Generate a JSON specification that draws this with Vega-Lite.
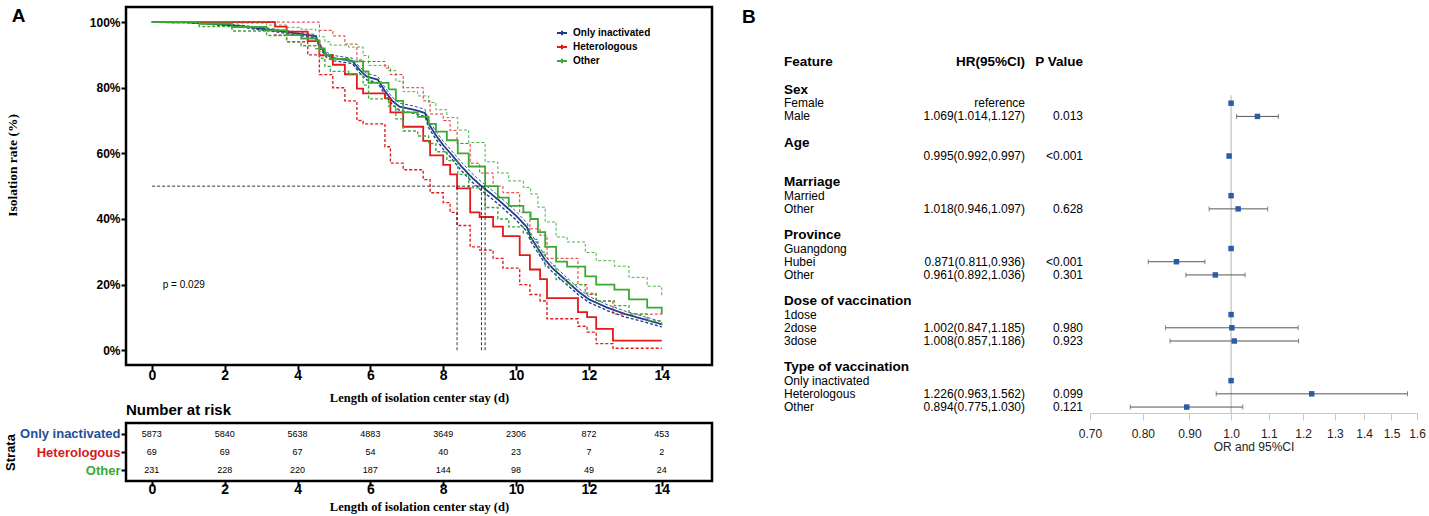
{
  "$schema": "https://vega.github.io/schema/vega-lite/v6.json",
  "padding": {"left": 2, "top": 5, "right": 0, "bottom": 0},
  "background": "white",
  "config": {
    "font": "Liberation Sans",
    "view": {"stroke": "black", "strokeWidth": 2.5},
    "axis": {"grid": false, "domain": false, "tickColor": "black", "labelColor": "black", "titleColor": "black"},
    "text": {"color": "black"}
  },
  "datasets": {
    "km": [
      {"g": "Only inactivated", "t": 0, "s": 100, "lo": 100, "hi": 100},
      {"g": "Only inactivated", "t": 1.0, "s": 99.9, "lo": 99.8, "hi": 100},
      {"g": "Only inactivated", "t": 1.5, "s": 99.6, "lo": 99.4, "hi": 99.8},
      {"g": "Only inactivated", "t": 2.0, "s": 99.2, "lo": 98.9, "hi": 99.4},
      {"g": "Only inactivated", "t": 2.5, "s": 98.7, "lo": 98.4, "hi": 99.0},
      {"g": "Only inactivated", "t": 3.0, "s": 98.0, "lo": 97.6, "hi": 98.4},
      {"g": "Only inactivated", "t": 3.5, "s": 97.3, "lo": 96.9, "hi": 97.7},
      {"g": "Only inactivated", "t": 4.0, "s": 96.5, "lo": 96.0, "hi": 97.0},
      {"g": "Only inactivated", "t": 4.5, "s": 95.7, "lo": 95.2, "hi": 96.2},
      {"g": "Only inactivated", "t": 4.6, "s": 93.0, "lo": 92.3, "hi": 93.6},
      {"g": "Only inactivated", "t": 4.8, "s": 90.0, "lo": 89.2, "hi": 90.8},
      {"g": "Only inactivated", "t": 5.0, "s": 89.0, "lo": 88.2, "hi": 89.8},
      {"g": "Only inactivated", "t": 5.5, "s": 88.2, "lo": 87.4, "hi": 89.0},
      {"g": "Only inactivated", "t": 5.7, "s": 85.5, "lo": 84.6, "hi": 86.4},
      {"g": "Only inactivated", "t": 5.9, "s": 83.4, "lo": 82.4, "hi": 84.4},
      {"g": "Only inactivated", "t": 6.2, "s": 82.5, "lo": 81.5, "hi": 83.5},
      {"g": "Only inactivated", "t": 6.4, "s": 79.0, "lo": 77.9, "hi": 80.1},
      {"g": "Only inactivated", "t": 6.6, "s": 76.0, "lo": 74.9, "hi": 77.1},
      {"g": "Only inactivated", "t": 6.8, "s": 74.2, "lo": 73.1, "hi": 75.3},
      {"g": "Only inactivated", "t": 7.2, "s": 73.3, "lo": 72.2, "hi": 74.4},
      {"g": "Only inactivated", "t": 7.5, "s": 72.3, "lo": 71.2, "hi": 73.4},
      {"g": "Only inactivated", "t": 7.6, "s": 69.0, "lo": 67.8, "hi": 70.2},
      {"g": "Only inactivated", "t": 7.8, "s": 65.5, "lo": 64.3, "hi": 66.7},
      {"g": "Only inactivated", "t": 8.0, "s": 62.5, "lo": 61.3, "hi": 63.7},
      {"g": "Only inactivated", "t": 8.2, "s": 60.0, "lo": 58.8, "hi": 61.2},
      {"g": "Only inactivated", "t": 8.5, "s": 56.0, "lo": 54.7, "hi": 57.3},
      {"g": "Only inactivated", "t": 8.8, "s": 52.5, "lo": 51.2, "hi": 53.8},
      {"g": "Only inactivated", "t": 9.05, "s": 50.0, "lo": 48.7, "hi": 51.3},
      {"g": "Only inactivated", "t": 9.3, "s": 47.8, "lo": 46.5, "hi": 49.1},
      {"g": "Only inactivated", "t": 9.6, "s": 45.0, "lo": 43.7, "hi": 46.3},
      {"g": "Only inactivated", "t": 10.0, "s": 41.0, "lo": 39.7, "hi": 42.3},
      {"g": "Only inactivated", "t": 10.3, "s": 37.5, "lo": 36.2, "hi": 38.8},
      {"g": "Only inactivated", "t": 10.4, "s": 34.5, "lo": 33.2, "hi": 35.8},
      {"g": "Only inactivated", "t": 10.6, "s": 31.0, "lo": 29.8, "hi": 32.2},
      {"g": "Only inactivated", "t": 10.8, "s": 27.5, "lo": 26.3, "hi": 28.7},
      {"g": "Only inactivated", "t": 11.0, "s": 25.0, "lo": 23.8, "hi": 26.2},
      {"g": "Only inactivated", "t": 11.3, "s": 22.0, "lo": 20.9, "hi": 23.1},
      {"g": "Only inactivated", "t": 11.7, "s": 18.0, "lo": 17.0, "hi": 19.0},
      {"g": "Only inactivated", "t": 12.0, "s": 15.5, "lo": 14.6, "hi": 16.4},
      {"g": "Only inactivated", "t": 12.5, "s": 13.0, "lo": 12.1, "hi": 13.9},
      {"g": "Only inactivated", "t": 13.0, "s": 11.0, "lo": 10.1, "hi": 11.9},
      {"g": "Only inactivated", "t": 13.5, "s": 9.5, "lo": 8.7, "hi": 10.3},
      {"g": "Only inactivated", "t": 14.0, "s": 7.9, "lo": 7.1, "hi": 8.7},
      {"g": "Heterologous", "t": 0, "s": 100, "lo": 100, "hi": 100},
      {"g": "Heterologous", "t": 3.38, "s": 98.6, "lo": 96, "hi": 100},
      {"g": "Heterologous", "t": 3.7, "s": 97.1, "lo": 94, "hi": 100},
      {"g": "Heterologous", "t": 4.28, "s": 94.2, "lo": 90, "hi": 100},
      {"g": "Heterologous", "t": 4.6, "s": 89.9, "lo": 84, "hi": 97.5},
      {"g": "Heterologous", "t": 4.97, "s": 87.0, "lo": 80, "hi": 95.8},
      {"g": "Heterologous", "t": 5.3, "s": 84.1, "lo": 76, "hi": 93.3},
      {"g": "Heterologous", "t": 5.63, "s": 79.7, "lo": 70, "hi": 88.5},
      {"g": "Heterologous", "t": 5.8, "s": 78.3, "lo": 69, "hi": 88},
      {"g": "Heterologous", "t": 6.4, "s": 76.8, "lo": 62, "hi": 86},
      {"g": "Heterologous", "t": 6.55, "s": 72.5, "lo": 57, "hi": 84},
      {"g": "Heterologous", "t": 6.9, "s": 68.1, "lo": 55, "hi": 80},
      {"g": "Heterologous", "t": 7.45, "s": 63.8, "lo": 52, "hi": 76},
      {"g": "Heterologous", "t": 7.64, "s": 59.4, "lo": 48, "hi": 72},
      {"g": "Heterologous", "t": 8.0, "s": 56.5, "lo": 45, "hi": 70},
      {"g": "Heterologous", "t": 8.19, "s": 53.6, "lo": 42, "hi": 67},
      {"g": "Heterologous", "t": 8.38, "s": 49.3, "lo": 38, "hi": 63},
      {"g": "Heterologous", "t": 8.74, "s": 42.0, "lo": 31.5, "hi": 57},
      {"g": "Heterologous", "t": 9.0, "s": 40.6, "lo": 30.5, "hi": 54},
      {"g": "Heterologous", "t": 9.37, "s": 37.7, "lo": 28, "hi": 50},
      {"g": "Heterologous", "t": 9.64, "s": 34.8, "lo": 25, "hi": 48},
      {"g": "Heterologous", "t": 10.1, "s": 29.0, "lo": 20, "hi": 42},
      {"g": "Heterologous", "t": 10.38, "s": 24.6, "lo": 17, "hi": 37},
      {"g": "Heterologous", "t": 10.66, "s": 21.7, "lo": 15, "hi": 35},
      {"g": "Heterologous", "t": 10.85, "s": 15.9, "lo": 9.6, "hi": 28},
      {"g": "Heterologous", "t": 11.7, "s": 11.6, "lo": 7.3, "hi": 20},
      {"g": "Heterologous", "t": 11.95, "s": 10.1, "lo": 5.5, "hi": 17},
      {"g": "Heterologous", "t": 12.2, "s": 6.5, "lo": 2, "hi": 15},
      {"g": "Heterologous", "t": 12.66, "s": 2.9, "lo": 0.6, "hi": 11},
      {"g": "Heterologous", "t": 14, "s": 2.9, "lo": 0.6, "hi": 11},
      {"g": "Other", "t": 0, "s": 100, "lo": 100, "hi": 100},
      {"g": "Other", "t": 1.3, "s": 99.5, "lo": 98.6, "hi": 100},
      {"g": "Other", "t": 2.2, "s": 98.5, "lo": 97.3, "hi": 99.7},
      {"g": "Other", "t": 3.15, "s": 97.5, "lo": 95.9, "hi": 99.1},
      {"g": "Other", "t": 3.7, "s": 96.0, "lo": 94.0, "hi": 98.4},
      {"g": "Other", "t": 4.1, "s": 95.0, "lo": 92.8, "hi": 97.8},
      {"g": "Other", "t": 4.5, "s": 94.4, "lo": 91.9, "hi": 97.3},
      {"g": "Other", "t": 4.6, "s": 92.0, "lo": 89.0, "hi": 95.5},
      {"g": "Other", "t": 4.75, "s": 90.0, "lo": 86.5, "hi": 94.0},
      {"g": "Other", "t": 4.9, "s": 88.8, "lo": 85.0, "hi": 93.0},
      {"g": "Other", "t": 5.4, "s": 88.0, "lo": 84.0, "hi": 92.4},
      {"g": "Other", "t": 5.8, "s": 85.0, "lo": 80.8, "hi": 89.8},
      {"g": "Other", "t": 5.95, "s": 81.5, "lo": 76.6, "hi": 86.8},
      {"g": "Other", "t": 6.5, "s": 79.5, "lo": 74.4, "hi": 85.2},
      {"g": "Other", "t": 6.7, "s": 76.0, "lo": 70.5, "hi": 82.0},
      {"g": "Other", "t": 6.9, "s": 72.5, "lo": 66.8, "hi": 78.8},
      {"g": "Other", "t": 7.3, "s": 71.1, "lo": 65.3, "hi": 77.5},
      {"g": "Other", "t": 7.6, "s": 69.0, "lo": 63.0, "hi": 75.5},
      {"g": "Other", "t": 7.8, "s": 66.6, "lo": 60.5, "hi": 73.3},
      {"g": "Other", "t": 8.1, "s": 64.0, "lo": 57.8, "hi": 70.9},
      {"g": "Other", "t": 8.4, "s": 60.0, "lo": 53.6, "hi": 67.1},
      {"g": "Other", "t": 8.7, "s": 56.0, "lo": 49.5, "hi": 63.3},
      {"g": "Other", "t": 9.15, "s": 50.0, "lo": 43.5, "hi": 57.4},
      {"g": "Other", "t": 9.5, "s": 46.5, "lo": 40.0, "hi": 54.0},
      {"g": "Other", "t": 9.8, "s": 44.0, "lo": 37.6, "hi": 51.6},
      {"g": "Other", "t": 10.2, "s": 42.0, "lo": 35.7, "hi": 49.6},
      {"g": "Other", "t": 10.4, "s": 40.0, "lo": 33.8, "hi": 47.6},
      {"g": "Other", "t": 10.6, "s": 36.0, "lo": 29.9, "hi": 43.6},
      {"g": "Other", "t": 10.8, "s": 31.5, "lo": 25.7, "hi": 39.1},
      {"g": "Other", "t": 11.1, "s": 27.0, "lo": 21.5, "hi": 34.5},
      {"g": "Other", "t": 11.4, "s": 25.5, "lo": 20.0, "hi": 33.0},
      {"g": "Other", "t": 11.9, "s": 22.5, "lo": 17.3, "hi": 29.8},
      {"g": "Other", "t": 12.2, "s": 20.0, "lo": 15.0, "hi": 27.3},
      {"g": "Other", "t": 12.7, "s": 18.5, "lo": 13.6, "hi": 25.6},
      {"g": "Other", "t": 13.1, "s": 15.5, "lo": 11.0, "hi": 22.2},
      {"g": "Other", "t": 13.6, "s": 13.0, "lo": 8.9, "hi": 19.5},
      {"g": "Other", "t": 14.0, "s": 11.0, "lo": 7.2, "hi": 16.5}
    ],
    "med": [
      {"g": "Heterologous", "m": 8.38},
      {"g": "Only inactivated", "m": 9.05},
      {"g": "Other", "m": 9.15}
    ],
    "ann": [{"label": "p = 0.029"}],
    "panelA": [{"label": "A"}],
    "panelB": [{"label": "B"}],
    "risk": [
      {"g": "Only inactivated", "t": 0, "n": "5873"},
      {"g": "Only inactivated", "t": 2, "n": "5840"},
      {"g": "Only inactivated", "t": 4, "n": "5638"},
      {"g": "Only inactivated", "t": 6, "n": "4883"},
      {"g": "Only inactivated", "t": 8, "n": "3649"},
      {"g": "Only inactivated", "t": 10, "n": "2306"},
      {"g": "Only inactivated", "t": 12, "n": "872"},
      {"g": "Only inactivated", "t": 14, "n": "453"},
      {"g": "Heterologous", "t": 0, "n": "69"},
      {"g": "Heterologous", "t": 2, "n": "69"},
      {"g": "Heterologous", "t": 4, "n": "67"},
      {"g": "Heterologous", "t": 6, "n": "54"},
      {"g": "Heterologous", "t": 8, "n": "40"},
      {"g": "Heterologous", "t": 10, "n": "23"},
      {"g": "Heterologous", "t": 12, "n": "7"},
      {"g": "Heterologous", "t": 14, "n": "2"},
      {"g": "Other", "t": 0, "n": "231"},
      {"g": "Other", "t": 2, "n": "228"},
      {"g": "Other", "t": 4, "n": "220"},
      {"g": "Other", "t": 6, "n": "187"},
      {"g": "Other", "t": 8, "n": "144"},
      {"g": "Other", "t": 10, "n": "98"},
      {"g": "Other", "t": 12, "n": "49"},
      {"g": "Other", "t": 14, "n": "24"}
    ],
    "forest": [
      {"row": -2.1, "kind": "header", "label": "Feature", "hr": "HR(95%CI)", "p": "P Value"},
      {"row": 0, "kind": "group", "label": "Sex"},
      {"row": 1, "kind": "item", "label": "Female", "hr": "reference", "or": 1},
      {"row": 2, "kind": "item", "label": "Male", "hr": "1.069(1.014,1.127)", "p": "0.013", "or": 1.069, "lo": 1.014, "hi": 1.127},
      {"row": 4, "kind": "group", "label": "Age"},
      {"row": 5, "kind": "item", "label": "", "hr": "0.995(0.992,0.997)", "p": "<0.001", "or": 0.995, "lo": 0.992, "hi": 0.997},
      {"row": 7, "kind": "group", "label": "Marriage"},
      {"row": 8, "kind": "item", "label": "Married", "or": 1},
      {"row": 9, "kind": "item", "label": "Other", "hr": "1.018(0.946,1.097)", "p": "0.628", "or": 1.018, "lo": 0.946, "hi": 1.097},
      {"row": 11, "kind": "group", "label": "Province"},
      {"row": 12, "kind": "item", "label": "Guangdong", "or": 1},
      {"row": 13, "kind": "item", "label": "Hubei", "hr": "0.871(0.811,0.936)", "p": "<0.001", "or": 0.871, "lo": 0.811, "hi": 0.936},
      {"row": 14, "kind": "item", "label": "Other", "hr": "0.961(0.892,1.036)", "p": "0.301", "or": 0.961, "lo": 0.892, "hi": 1.036},
      {"row": 16, "kind": "group", "label": "Dose of vaccination"},
      {"row": 17, "kind": "item", "label": "1dose", "or": 1},
      {"row": 18, "kind": "item", "label": "2dose", "hr": "1.002(0.847,1.185)", "p": "0.980", "or": 1.002, "lo": 0.847, "hi": 1.185},
      {"row": 19, "kind": "item", "label": "3dose", "hr": "1.008(0.857,1.186)", "p": "0.923", "or": 1.008, "lo": 0.857, "hi": 1.186},
      {"row": 21, "kind": "group", "label": "Type of vaccination"},
      {"row": 22, "kind": "item", "label": "Only inactivated", "or": 1},
      {"row": 23, "kind": "item", "label": "Heterologous", "hr": "1.226(0.963,1.562)", "p": "0.099", "or": 1.226, "lo": 0.963, "hi": 1.562},
      {"row": 24, "kind": "item", "label": "Other", "hr": "0.894(0.775,1.030)", "p": "0.121", "or": 0.894, "lo": 0.775, "hi": 1.030}
    ],
    "ref": [{"ref": 1, "top": 0.4, "bottom": 24.45}]
  },
  "spacing": 28,
  "hconcat": [
    {
      "spacing": -4,
      "vconcat": [
        {
          "width": 586,
          "height": 358,
          "layer": [
            {
              "data": {"name": "km"},
              "transform": [{"filter": "datum.g == 'Only inactivated'"}, {"fold": ["s", "lo", "hi"], "as": ["key", "value"]}],
              "mark": {"type": "line", "interpolate": "linear"},
              "encoding": {
                "x": {"field": "t", "type": "quantitative", "scale": {"domain": [-0.71, 15.38], "nice": false, "zero": false},
                  "axis": {"values": [0, 2, 4, 6, 8, 10, 12, 14], "labelFontSize": 14, "labelFontWeight": "bold", "labelFont": "Liberation Sans Narrow, Liberation Sans", "tickSize": 5, "tickWidth": 2, "labelPadding": -2, "title": "Length of isolation center stay (d)", "titleFont": "Liberation Serif", "titleFontSize": 12.5, "titleFontWeight": "bold", "titlePadding": 9}},
                "y": {"field": "value", "type": "quantitative", "scale": {"domain": [-4.5, 104.6], "nice": false, "zero": false},
                  "axis": {"values": [0, 20, 40, 60, 80, 100], "labelExpr": "datum.value + '%'", "labelFontSize": 12, "labelFontWeight": "bold", "tickSize": 5, "tickWidth": 2, "labelPadding": 1, "minExtent": 100, "maxExtent": 100, "title": "Isolation rate (%)", "titleFont": "Liberation Serif", "titleFontSize": 13.5, "titleFontWeight": "bold", "titlePadding": 7, "titleY": 158}},
                "color": {"field": "g", "type": "nominal",
                  "scale": {"domain": ["Only inactivated", "Heterologous", "Other"], "range": ["#1f3d8c", "#e31a1c", "#3aaa35"]},
                  "legend": {"title": null, "orient": "none", "legendX": 430, "legendY": 20, "padding": 0, "labelFontSize": 10, "labelFontWeight": "bold", "labelColor": "black", "symbolType": "M-1,0L1,0M0,-0.45L0,0.45", "symbolSize": 100, "symbolStrokeWidth": 2, "symbolFillColor": "transparent", "rowPadding": 0, "labelOffset": 5}},
                "strokeDash": {"field": "key", "type": "nominal", "scale": {"domain": ["s", "lo", "hi"], "range": [[1, 0], [3, 2], [3, 2]]}, "legend": null},
                "strokeWidth": {"field": "key", "type": "ordinal", "scale": {"domain": ["s", "lo", "hi"], "range": [1.8, 0.9, 0.9]}, "legend": null}
              }
            },
            {
              "data": {"name": "km"},
              "transform": [{"filter": "datum.g != 'Only inactivated'"}, {"fold": ["s", "lo", "hi"], "as": ["key", "value"]}],
              "mark": {"type": "line", "interpolate": "step-after"},
              "encoding": {
                "x": {"field": "t", "type": "quantitative"},
                "y": {"field": "value", "type": "quantitative"},
                "color": {"field": "g", "type": "nominal"},
                "strokeDash": {"field": "key", "type": "nominal", "legend": null},
                "strokeWidth": {"field": "key", "type": "ordinal", "legend": null}
              }
            },
            {
              "data": {"name": "med"},
              "mark": {"type": "rule", "strokeDash": [3, 2], "strokeWidth": 0.8, "color": "black"},
              "encoding": {
                "x": {"field": "m", "type": "quantitative"},
                "y": {"datum": 0, "type": "quantitative"},
                "y2": {"datum": 50}
              }
            },
            {
              "data": {"name": "med"},
              "transform": [{"aggregate": [{"op": "max", "field": "m", "as": "mx"}]}],
              "mark": {"type": "rule", "strokeDash": [3, 2], "strokeWidth": 0.8, "color": "black"},
              "encoding": {
                "x": {"field": "mx", "type": "quantitative"},
                "x2": {"datum": 0},
                "y": {"datum": 50, "type": "quantitative"}
              }
            },
            {
              "data": {"name": "ann"},
              "mark": {"type": "text", "align": "left", "baseline": "middle", "fontSize": 10, "color": "black"},
              "encoding": {
                "x": {"datum": 0.3, "type": "quantitative"},
                "y": {"datum": 20, "type": "quantitative"},
                "text": {"field": "label"}
              }
            },
            {
              "data": {"name": "panelA"},
              "mark": {"type": "text", "align": "left", "baseline": "middle", "fontSize": 19, "fontWeight": "bold", "color": "black"},
              "encoding": {
                "x": {"datum": -3.85, "type": "quantitative"},
                "y": {"datum": 102, "type": "quantitative"},
                "text": {"field": "label"}
              }
            }
          ]
        },
        {
          "width": 586,
          "height": 58,
          "data": {"name": "risk"},
          "title": {"text": "Number at risk", "anchor": "start", "frame": "group", "offset": -10, "baseline": "bottom", "fontSize": 15, "fontWeight": "bold", "color": "black"},
          "mark": {"type": "text", "fontSize": 9, "color": "black"},
          "encoding": {
            "x": {"field": "t", "type": "quantitative", "scale": {"domain": [-0.71, 15.38], "nice": false, "zero": false},
              "axis": {"values": [0, 2, 4, 6, 8, 10, 12, 14], "labelFontSize": 14, "labelFontWeight": "bold", "labelFont": "Liberation Sans Narrow, Liberation Sans", "tickSize": 5, "tickWidth": 2, "labelPadding": -4, "title": "Length of isolation center stay (d)", "titleFont": "Liberation Serif", "titleFontSize": 12.5, "titleFontWeight": "bold", "titlePadding": 4}},
            "y": {"field": "g", "type": "nominal", "sort": ["Only inactivated", "Heterologous", "Other"], "scale": {"type": "point", "padding": 0.6},
              "axis": {"title": "Strata", "titleFontSize": 13, "titleFontWeight": "bold", "titlePadding": 9, "labelFontSize": 13, "labelFontWeight": "bold", "tickSize": 5, "tickWidth": 2, "labelPadding": 1, "minExtent": 100, "maxExtent": 100,
                "labelColor": {"condition": [{"test": "datum.value === 'Only inactivated'", "value": "#1f4e96"}, {"test": "datum.value === 'Heterologous'", "value": "#d7191c"}], "value": "#3aaa35"}}},
            "text": {"field": "n", "type": "nominal"}
          }
        }
      ]
    },
    {
      "spacing": -5,
      "hconcat": [
        {
          "width": 299,
          "height": 406,
          "view": {"stroke": null},
          "data": {"name": "forest"},
          "layer": [
            {
              "transform": [{"filter": "datum.kind != 'item'"}],
              "mark": {"type": "text", "align": "left", "baseline": "middle", "fontSize": 13.5, "fontWeight": "bold", "color": "black"},
              "encoding": {
                "x": {"datum": 0, "type": "quantitative", "scale": {"domain": [0, 299], "nice": false, "zero": false}, "axis": null},
                "y": {"field": "row", "type": "quantitative", "scale": {"domain": [-6.28, 24.45], "reverse": true, "nice": false, "zero": false}, "axis": null},
                "text": {"field": "label"}
              }
            },
            {
              "transform": [{"filter": "datum.kind == 'item' && datum.label != ''"}],
              "mark": {"type": "text", "align": "left", "baseline": "middle", "fontSize": 12, "color": "black"},
              "encoding": {"x": {"datum": 0, "type": "quantitative"}, "y": {"field": "row", "type": "quantitative"}, "text": {"field": "label"}}
            },
            {
              "transform": [{"filter": "datum.kind == 'header'"}],
              "mark": {"type": "text", "align": "right", "baseline": "middle", "fontSize": 13.5, "fontWeight": "bold", "color": "black"},
              "encoding": {"x": {"datum": 241, "type": "quantitative"}, "y": {"field": "row", "type": "quantitative"}, "text": {"field": "hr"}}
            },
            {
              "transform": [{"filter": "datum.kind == 'header'"}],
              "mark": {"type": "text", "align": "right", "baseline": "middle", "fontSize": 13.5, "fontWeight": "bold", "color": "black"},
              "encoding": {"x": {"datum": 299, "type": "quantitative"}, "y": {"field": "row", "type": "quantitative"}, "text": {"field": "p"}}
            },
            {
              "transform": [{"filter": "datum.kind == 'item' && isValid(datum.hr)"}],
              "mark": {"type": "text", "align": "right", "baseline": "middle", "fontSize": 12, "color": "black"},
              "encoding": {"x": {"datum": 241, "type": "quantitative"}, "y": {"field": "row", "type": "quantitative"}, "text": {"field": "hr"}}
            },
            {
              "transform": [{"filter": "datum.kind == 'item' && isValid(datum.p)"}],
              "mark": {"type": "text", "align": "right", "baseline": "middle", "fontSize": 12, "color": "black"},
              "encoding": {"x": {"datum": 299, "type": "quantitative"}, "y": {"field": "row", "type": "quantitative"}, "text": {"field": "p"}}
            },
            {
              "data": {"name": "panelB"},
              "mark": {"type": "text", "align": "left", "baseline": "middle", "fontSize": 19, "fontWeight": "bold", "color": "black"},
              "encoding": {"x": {"datum": -42, "type": "quantitative"}, "y": {"datum": -5.55, "type": "quantitative"}, "text": {"field": "label"}}
            }
          ]
        },
        {
          "width": 327,
          "height": 406,
          "view": {"stroke": null},
          "layer": [
            {
              "data": {"name": "ref"},
              "mark": {"type": "rule", "color": "#b3b3b3", "strokeWidth": 1},
              "encoding": {
                "x": {"field": "ref", "type": "quantitative", "scale": {"type": "log", "domain": [0.7, 1.6], "nice": false},
                  "axis": {"values": [0.7, 0.8, 0.9, 1, 1.1, 1.2, 1.3, 1.4, 1.5, 1.6], "labelExpr": "datum.value < 0.95 ? format(datum.value, '.2f') : format(datum.value, '.1f')", "domain": true, "domainColor": "#c8c8c8", "tickColor": "#c8c8c8", "tickSize": 7, "labelPadding": 8, "labelFontSize": 12, "labelColor": "#222222", "labelFlush": false, "title": "OR and 95%CI", "titleFontSize": 12, "titleFontWeight": "normal", "titlePadding": 2, "titleColor": "#222222"}},
                "y": {"field": "top", "type": "quantitative", "scale": {"domain": [-6.28, 24.45], "reverse": true, "nice": false, "zero": false}, "axis": null},
                "y2": {"field": "bottom"}
              }
            },
            {
              "data": {"name": "forest"},
              "transform": [{"filter": "isValid(datum.lo)"}],
              "mark": {"type": "rule", "color": "#555555", "strokeWidth": 1},
              "encoding": {
                "x": {"field": "lo", "type": "quantitative"},
                "x2": {"field": "hi"},
                "y": {"field": "row", "type": "quantitative"}
              }
            },
            {
              "data": {"name": "forest"},
              "transform": [{"filter": "isValid(datum.lo)"}],
              "mark": {"type": "tick", "orient": "vertical", "size": 5, "thickness": 1, "color": "#555555"},
              "encoding": {
                "x": {"field": "lo", "type": "quantitative"},
                "y": {"field": "row", "type": "quantitative"}
              }
            },
            {
              "data": {"name": "forest"},
              "transform": [{"filter": "isValid(datum.hi)"}],
              "mark": {"type": "tick", "orient": "vertical", "size": 5, "thickness": 1, "color": "#555555"},
              "encoding": {
                "x": {"field": "hi", "type": "quantitative"},
                "y": {"field": "row", "type": "quantitative"}
              }
            },
            {
              "data": {"name": "forest"},
              "transform": [{"filter": "isValid(datum.or)"}],
              "mark": {"type": "square", "size": 30, "color": "#2b5ca8", "opacity": 1},
              "encoding": {
                "x": {"field": "or", "type": "quantitative"},
                "y": {"field": "row", "type": "quantitative"}
              }
            }
          ]
        }
      ]
    }
  ]
}
